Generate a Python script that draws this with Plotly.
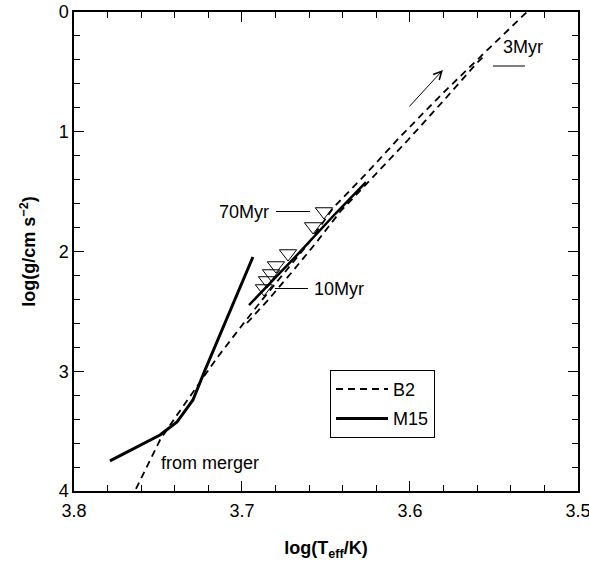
import plotly.graph_objects as go

# B2 evolutionary tracks: log Teff and log g
b2_merger_logt = [3.7631, 3.7488, 3.7399, 3.7262, 3.7149, 3.7012, 3.6881, 3.6744,
                  3.6607, 3.6458, 3.6268, 3.6060, 3.5821, 3.5583, 3.5345, 3.5304]
b2_merger_logg = [3.983, 3.574, 3.390, 3.115, 2.889, 2.639, 2.405, 2.171,
                  1.937, 1.637, 1.361, 1.044, 0.701, 0.376, 0.058, 0.000]

b2_second_logt = [3.6970, 3.6845, 3.6702, 3.6560, 3.6417, 3.6214, 3.6012, 3.5786, 3.5607, 3.5548]
b2_second_logg = [2.597, 2.405, 2.171, 1.929, 1.670, 1.370, 1.069, 0.718, 0.434, 0.351]

# M15 track, in two pieces
m15_a_logt = [3.7786, 3.7488, 3.7387, 3.7292, 3.7220, 3.7113, 3.6935]
m15_a_logg = [3.749, 3.532, 3.424, 3.240, 2.990, 2.630, 2.046]

m15_b_logt = [3.6958, 3.6655, 3.6446, 3.6262]
m15_b_logg = [2.447, 2.004, 1.687, 1.420]

# Observed positions, from 70 Myr (top) to 10 Myr (bottom)
obs_logt = [3.6512, 3.6577, 3.6726, 3.6798, 3.6827, 3.6851, 3.6869]
obs_logg = [1.666, 1.791, 2.017, 2.117, 2.184, 2.242, 2.309]

x_ticks = [3.8, 3.7, 3.6, 3.5]
y_ticks = [0, 1, 2, 3, 4]

FONT = "Liberation Sans, Arial, sans-serif"
FS = 18
DASH = "7px,5px"
txt = dict(family=FONT, size=FS, color="black")

fig = go.Figure()

fig.add_trace(go.Scatter(
    x=b2_merger_logt, y=b2_merger_logg, mode="lines", name="B2",
    legendgroup="b2", line=dict(color="black", width=1.8, dash=DASH)))
fig.add_trace(go.Scatter(
    x=b2_second_logt, y=b2_second_logg, mode="lines", name="B2",
    legendgroup="b2", showlegend=False,
    line=dict(color="black", width=1.8, dash=DASH)))
fig.add_trace(go.Scatter(
    x=m15_a_logt, y=m15_a_logg, mode="lines", name="M15",
    legendgroup="m15", line=dict(color="black", width=3)))
fig.add_trace(go.Scatter(
    x=m15_b_logt, y=m15_b_logg, mode="lines", name="M15",
    legendgroup="m15", showlegend=False,
    line=dict(color="black", width=2.5)))
fig.add_trace(go.Scatter(
    x=obs_logt, y=obs_logg, mode="markers", showlegend=False,
    marker=dict(symbol="triangle-down-open", size=15, color="black",
                line=dict(width=1, color="black"))))

# Age labels with short pointer lines
fig.add_shape(type="line", xref="x", yref="y", x0=3.6798, x1=3.6595,
              y0=obs_logg[0], y1=obs_logg[0], line=dict(color="black", width=1))
fig.add_annotation(x=3.6850, y=obs_logg[0], text="70Myr", showarrow=False,
                   xanchor="right", xshift=4, font=txt)

fig.add_shape(type="line", xref="x", yref="y", x0=3.6804, x1=3.6607,
              y0=obs_logg[-1], y1=obs_logg[-1], line=dict(color="black", width=1))
fig.add_annotation(x=3.6560, y=obs_logg[-1], text="10Myr", showarrow=False,
                   xanchor="left", xshift=-4, font=txt)

fig.add_shape(type="line", xref="x", yref="y", x0=3.5506, x1=3.5315,
              y0=0.451, y1=0.451, line=dict(color="black", width=1))
fig.add_annotation(x=3.5330, y=0.29, text="3Myr", showarrow=False, font=txt)

fig.add_annotation(x=3.7193, y=3.77, text="from merger", showarrow=False, font=txt)

# Direction of evolution
fig.add_annotation(x=3.5804, y=0.484, ax=3.6012, ay=0.802, axref="x", ayref="y",
                   xref="x", yref="y", text="", showarrow=True,
                   arrowhead=5, arrowsize=1.6, arrowwidth=1, arrowcolor="black")

axis_common = dict(
    showline=True, linecolor="black", linewidth=1.5, mirror="allticks",
    ticks="inside", ticklen=10, tickwidth=1.2, tickcolor="black",
    showgrid=False, zeroline=False, ticklabeloverflow="allow",
    tickfont=txt,
)

fig.update_xaxes(
    range=[3.8, 3.49999], tickvals=x_ticks, ticktext=[f"{v:.1f}" for v in x_ticks],
    minor=dict(ticks="inside", ticklen=6, dtick=0.02, tickcolor="black", tickwidth=1.2),
    ticklabelstandoff=3,
    title=dict(text="<b>log(T<sub>eff</sub>/K)</b>", standoff=26, font=txt),
    **axis_common)
fig.update_yaxes(
    range=[4, 0], tickvals=y_ticks, ticktext=[str(v) for v in y_ticks],
    minor=dict(ticks="inside", ticklen=6, dtick=0.2, tickcolor="black", tickwidth=1.2),
    title=dict(text="<b>log(g/cm s<sup>−2</sup>)</b>", standoff=18, font=txt),
    **axis_common)

fig.update_layout(
    width=589, height=561,
    margin=dict(l=74, r=11, t=12, b=70, autoexpand=False),
    plot_bgcolor="white", paper_bgcolor="white",
    showlegend=True,
    legend=dict(x=0.508, y=0.253, xanchor="left", yanchor="top",
                bgcolor="white", bordercolor="black", borderwidth=1,
                font=txt, itemwidth=52, tracegroupgap=3),
)

fig.write_html("out.html")
